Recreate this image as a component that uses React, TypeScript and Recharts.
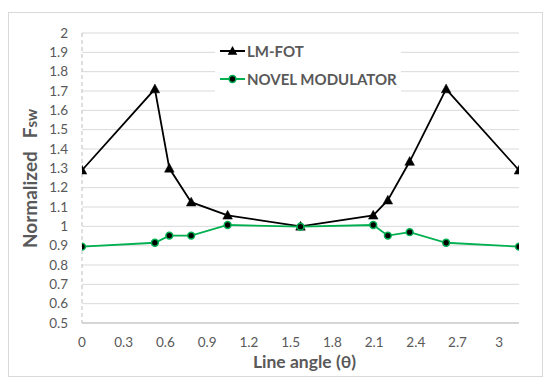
import React from "react";
import { LineChart, Line, XAxis, YAxis, CartesianGrid, Legend, Label } from "recharts";

const angles = [0, 0.524, 0.628, 0.785, 1.047, 1.571, 2.094, 2.199, 2.356, 2.618, 3.142];
const lmFot = [1.29, 1.71, 1.3, 1.125, 1.057, 1.0, 1.057, 1.135, 1.335, 1.71, 1.29];
const novel = [0.895, 0.915, 0.952, 0.952, 1.007, 0.998, 1.007, 0.952, 0.97, 0.915, 0.895];

const xTicks = [0, 0.3, 0.6, 0.9, 1.2, 1.5, 1.8, 2.1, 2.4, 2.7, 3];
const yTicks = [0.5, 0.6, 0.7, 0.8, 0.9, 1, 1.1, 1.2, 1.3, 1.4, 1.5, 1.6, 1.7, 1.8, 1.9, 2];

const seriesNames = ["LM-FOT", "NOVEL MODULATOR"];

const data = angles.map((a, i) => ({ angle: a, lm: lmFot[i], novel: novel[i] }));

const FONT = "Lato, 'Open Sans', sans-serif";
const TEXT = "#595959";
const GREEN = "#00b050";

const TriangleDot = (props: any) => {
  const { cx, cy, index } = props;
  if (cx == null || cy == null) return null;
  return (
    <path
      key={`tri-${index}`}
      d={`M${cx},${cy - 5} L${cx + 4.8},${cy + 3.8} L${cx - 4.8},${cy + 3.8} Z`}
      fill="#000"
      stroke="#000"
      strokeWidth={0.5}
    />
  );
};

const CircleDot = (props: any) => {
  const { cx, cy, index } = props;
  if (cx == null || cy == null) return null;
  return <circle key={`cir-${index}`} cx={cx} cy={cy} r={3.4} fill="#000" stroke={GREEN} strokeWidth={1.5} />;
};

const LegendContent = () => (
  <svg width={186} height={55} style={{ display: "block", background: "#fff" }}>
    <line x1={5} y1={11} x2={30} y2={11} stroke="#000" strokeWidth={2} />
    <path d="M17.5,6 L22.3,14.8 L12.7,14.8 Z" fill="#000" />
    <text x={32} y={16.5} fontFamily={FONT} fontWeight={700} fontSize={15} fill={TEXT}>
      {seriesNames[0]}
    </text>
    <line x1={5} y1={39} x2={30} y2={39} stroke={GREEN} strokeWidth={2} />
    <circle cx={17.5} cy={39} r={3.4} fill="#000" stroke={GREEN} strokeWidth={1.5} />
    <text x={32} y={44.5} fontFamily={FONT} fontWeight={700} fontSize={15} fill={TEXT}>
      {seriesNames[1]}
    </text>
  </svg>
);

const XTitle = (props: any) => {
  const vb = props.viewBox || { x: 0, y: 0, width: 0, height: 0 };
  return (
    <text
      x={vb.x + vb.width / 2 + 4}
      y={vb.y + 45}
      textAnchor="middle"
      fontFamily={FONT}
      fontWeight={700}
      fontSize={17.5}
      fill={TEXT}
    >
      Line angle (θ)
    </text>
  );
};

const YTitle = (props: any) => {
  const vb = props.viewBox || { x: 0, y: 0, width: 0, height: 0 };
  const cx = vb.x + 28;
  const cy = vb.y + vb.height / 2 + 0.5;
  return (
    <text
      x={cx}
      y={cy}
      transform={`rotate(-90, ${cx}, ${cy})`}
      textAnchor="middle"
      fontFamily={FONT}
      fontWeight={700}
      fontSize={19}
      fill={TEXT}
    >
      <tspan>Normalized</tspan>
      <tspan dx={13}>F</tspan>
      <tspan fontSize={15}>sw</tspan>
    </text>
  );
};

export default function App() {
  return (
    <div
      style={{
        marginTop: 4,
        width: 533,
        height: 363,
        border: "1px solid #d9d9d9",
        background: "#fff",
      }}
    >
      <LineChart width={533} height={363} data={data} margin={{ top: 20, right: 23, bottom: 0, left: 0 }}>
        <CartesianGrid vertical={false} stroke="#d9d9d9" strokeWidth={1} />
        <XAxis
          dataKey="angle"
          type="number"
          domain={[0, 3.142]}
          ticks={xTicks}
          interval={0}
          height={53}
          tickLine={false}
          tickSize={0}
          tickMargin={14}
          axisLine={{ stroke: "#bfbfbf", strokeWidth: 1 }}
          tick={{ fill: TEXT, fontFamily: FONT, fontSize: 13.5 }}
          tickFormatter={(v: number) => String(v)}
          allowDataOverflow
        >
          <Label content={<XTitle />} />
        </XAxis>
        <YAxis
          type="number"
          domain={[0.5, 2]}
          ticks={yTicks}
          interval={0}
          width={73}
          tickLine={false}
          tickSize={0}
          tickMargin={14}
          axisLine={{ stroke: "#bfbfbf", strokeWidth: 1, strokeDasharray: "4 3" }}
          tick={{ fill: TEXT, fontFamily: FONT, fontSize: 13.5 }}
          tickFormatter={(v: number) => String(v)}
        >
          <Label content={<YTitle />} />
        </YAxis>
        <Legend
          layout="vertical"
          align="center"
          verticalAlign="middle"
          content={<LegendContent />}
          wrapperStyle={{ position: "absolute", left: 206, top: 27, width: 186, height: 55 }}
        />
        <Line
          type="linear"
          dataKey="lm"
          name={seriesNames[0]}
          stroke="#000"
          strokeWidth={1.8}
          dot={TriangleDot}
          activeDot={false}
          isAnimationActive={false}
        />
        <Line
          type="linear"
          dataKey="novel"
          name={seriesNames[1]}
          stroke={GREEN}
          strokeWidth={1.8}
          dot={CircleDot}
          activeDot={false}
          isAnimationActive={false}
        />
      </LineChart>
    </div>
  );
}
